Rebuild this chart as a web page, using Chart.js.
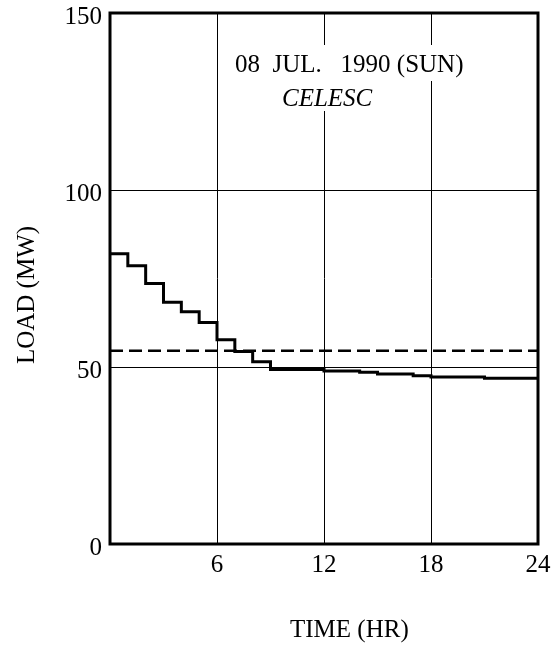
<!DOCTYPE html>
<html>
<head>
<meta charset="utf-8">
<script src="https://cdn.jsdelivr.net/npm/chart.js@4.4.1/dist/chart.umd.min.js"></script>
<style>
  html, body { margin: 0; padding: 0; background: #fff; }
  #load-chart { display: block; }
</style>
</head>
<body>
<canvas id="load-chart" width="559" height="651"></canvas>
<script>
/*==== data ====*/
// hour where each load step starts (last point closes the curve at 24h)
const hours = [0, 1, 2, 3, 4, 5, 6, 7, 8, 9, 12, 14, 15, 17, 18, 21, 24];
const loads = [82, 78.6, 73.6, 68.3, 65.6, 62.6, 57.7, 54.4, 51.5, 49.3, 48.9, 48.5, 48.0, 47.5, 47.2, 46.8, 46.8];
// dashed reference level
const limitHours = [0, 24];
const limitLoads = [54.6, 54.6];
const xTicks = [6, 12, 18, 24];
const yTicks = [0, 50, 100, 150];
const titleLines = ['08  JUL.   1990 (SUN)', 'CELESC'];

const serif = "'Liberation Serif', 'Times New Roman', serif";

function toPoints(xs, ys) {
    return xs.map(function (x, i) { return { x: x, y: ys[i] }; });
}

/*==== frame, labels inside plot and axis titles ====*/
const paperPlugin = {
    id: 'paper',
    beforeDraw: function (chart) {
        const ctx = chart.ctx;
        ctx.save();
        ctx.fillStyle = '#fff';
        ctx.fillRect(0, 0, chart.width, chart.height);
        ctx.restore();
    },
    afterDraw: function (chart) {
        const ctx = chart.ctx;
        const a = chart.chartArea;
        ctx.save();
        // box round the plot
        ctx.strokeStyle = '#000';
        ctx.lineWidth = 3;
        ctx.strokeRect(a.left, a.top, a.right - a.left, a.bottom - a.top);

        // date + utility label, knocked out of the grid
        ctx.fillStyle = '#000';
        ctx.textBaseline = 'alphabetic';
        ctx.textAlign = 'left';
        ctx.font = '25px ' + serif;
        var w1 = ctx.measureText(titleLines[0]).width;
        ctx.fillStyle = '#fff';
        ctx.fillRect(a.left + 120, a.top + 32, w1 + 10, 36);
        ctx.fillStyle = '#000';
        ctx.fillText(titleLines[0], a.left + 125, a.top + 59);

        ctx.font = 'italic 25px ' + serif;
        var w2 = ctx.measureText(titleLines[1]).width;
        ctx.fillStyle = '#fff';
        ctx.fillRect(a.left + 167, a.top + 68, w2 + 10, 30);
        ctx.fillStyle = '#000';
        ctx.fillText(titleLines[1], a.left + 172, a.top + 93);

        // axis titles
        ctx.font = '25px ' + serif;
        ctx.textAlign = 'left';
        ctx.fillText('TIME (HR)', 290, 637);

        ctx.translate(27, 295);
        ctx.rotate(-Math.PI / 2);
        ctx.textAlign = 'center';
        ctx.textBaseline = 'middle';
        ctx.fillText('LOAD (MW)', 0, 0);
        ctx.restore();
    }
};

/*==== setup ====*/
const data_load = {
    datasets: [
        {
            label: 'Load',
            data: toPoints(hours, loads),
            stepped: 'before',
            borderColor: '#000',
            borderWidth: 3,
            pointRadius: 0,
            fill: false
        },
        {
            label: 'Level',
            data: toPoints(limitHours, limitLoads),
            borderColor: '#000',
            borderWidth: 2.5,
            borderDash: [13, 6],
            pointRadius: 0,
            fill: false
        }
    ]
};

const config_load_chart = {
    type: 'line',
    data: data_load,
    plugins: [paperPlugin],
    options: {
        responsive: false,
        animation: false,
        layout: { padding: { top: 13, right: 21, bottom: 0, left: 0 } },
        plugins: {
            legend: { display: false },
            tooltip: { enabled: false }
        },
        scales: {
            x: {
                type: 'linear',
                min: 0,
                max: 24,
                afterBuildTicks: function (scale) {
                    scale.ticks = [0].concat(xTicks).map(function (v) { return { value: v }; });
                },
                afterFit: function (scale) {
                    scale.height = 107;
                    scale.paddingLeft = 0;
                    scale.paddingRight = 0;
                },
                grid: { color: '#000', lineWidth: 1, drawTicks: false },
                border: { display: false },
                ticks: {
                    color: '#000',
                    padding: 6,
                    font: { family: serif, size: 25 },
                    callback: function (v) { return v === 0 ? '' : v; }
                }
            },
            y: {
                type: 'linear',
                min: 0,
                max: 150,
                afterBuildTicks: function (scale) {
                    scale.ticks = yTicks.map(function (v) { return { value: v }; });
                },
                afterFit: function (scale) {
                    scale.width = 110;
                    scale.paddingTop = 0;
                    scale.paddingBottom = 0;
                },
                grid: { color: '#000', lineWidth: 1, drawTicks: false },
                border: { display: false },
                ticks: {
                    color: '#000',
                    padding: 8,
                    labelOffset: 4,
                    font: { family: serif, size: 25 }
                }
            }
        }
    }
};

/*===== render graphic =====*/
var loadChart = new Chart(document.getElementById('load-chart'), config_load_chart);
</script>
</body>
</html>
